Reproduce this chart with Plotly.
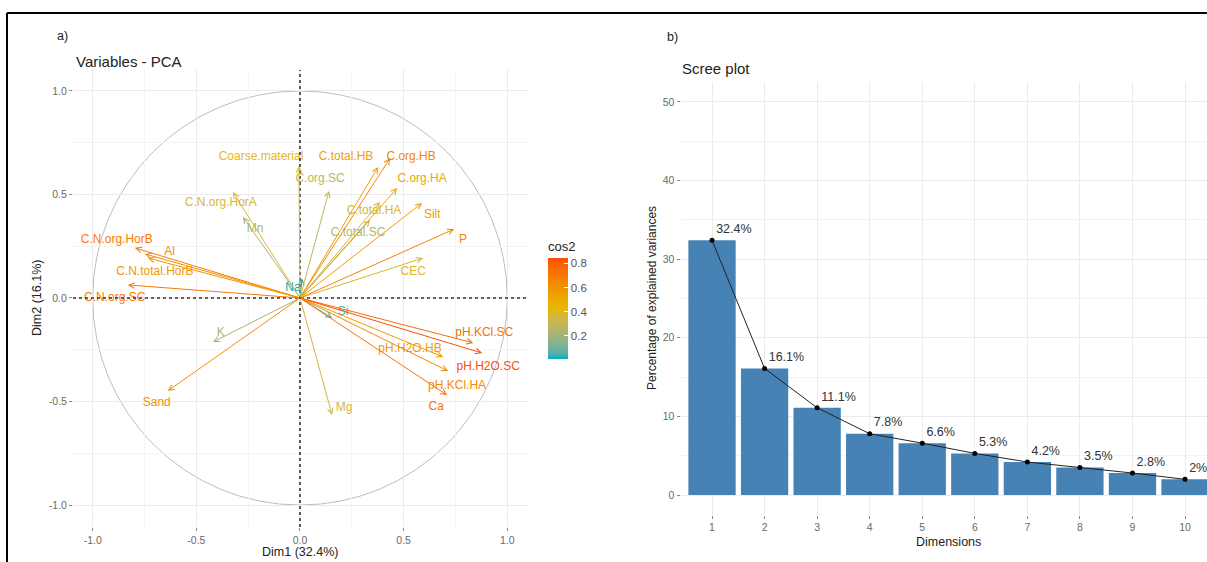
import plotly.graph_objects as go

# ---------------- data ----------------
var_names = ["C.N.org.HorB", "Al", "C.N.total.HorB", "C.N.org.SC", "C.N.org.HorA", "Mn", "Na",
             "Coarse.material", "C.org.SC", "C.total.HB", "C.org.HB", "C.org.HA", "C.total.HA",
             "C.total.SC", "Silt", "P", "CEC", "Si", "pH.KCl.SC", "pH.H2O.SC", "pH.H2O.HB",
             "pH.KCl.HA", "Ca", "Mg", "K", "Sand"]
dim1 = [-0.797, -0.749, -0.734, -0.831, -0.324, -0.275, 0.010,
        -0.005, 0.140, 0.377, 0.435, 0.469, 0.386,
        0.338, 0.589, 0.744, 0.594, 0.155, 0.836, 0.879, 0.691,
        0.715, 0.710, 0.155, -0.420, -0.638]
dim2 = [0.242, 0.213, 0.193, 0.063, 0.512, 0.391, 0.095,
        0.638, 0.517, 0.633, 0.676, 0.531, 0.464,
        0.377, 0.459, 0.333, 0.193, -0.097, -0.217, -0.266, -0.285,
        -0.353, -0.469, -0.565, -0.213, -0.449]

dims = [1, 2, 3, 4, 5, 6, 7, 8, 9, 10]
eig_pct = [32.4, 16.1, 11.1, 7.8, 6.6, 5.3, 4.2, 3.5, 2.8, 2.0]

pca_ticks = [-1.0, -0.5, 0.0, 0.5, 1.0]
pca_ticktext = ["-1.0", "-0.5", "0.0", "0.5", "1.0"]
scree_ticks = [0, 10, 20, 30, 40, 50]
cos2_ticks = [0.2, 0.4, 0.6, 0.8]

# ---------------- label placement (layout) ----------------
lab_dx = {"C.N.org.HorB": -0.087, "Al": 0.12, "C.N.total.HorB": 0.034, "C.N.org.SC": -0.063,
          "C.N.org.HorA": -0.058, "Mn": 0.058, "Na": -0.044, "Coarse.material": -0.183,
          "C.org.SC": -0.043, "C.total.HB": -0.155, "C.org.HB": 0.101, "C.org.HA": 0.12,
          "C.total.HA": -0.029, "C.total.SC": -0.058, "Silt": 0.049, "P": 0.043, "CEC": -0.048,
          "Si": 0.053, "pH.KCl.SC": 0.053, "pH.H2O.SC": 0.029, "pH.H2O.HB": -0.16,
          "pH.KCl.HA": 0.043, "Ca": -0.053, "Mg": 0.058, "K": 0.038, "Sand": -0.053}
lab_dy = {"C.N.org.HorB": 0.038, "Al": 0.009, "C.N.total.HorB": -0.067, "C.N.org.SC": -0.063,
          "C.N.org.HorA": -0.053, "Mn": -0.058, "Na": -0.048, "Coarse.material": 0.043,
          "C.org.SC": 0.058, "C.total.HB": 0.048, "C.org.HB": 0.005, "C.org.HA": 0.044,
          "C.total.HA": -0.044, "C.total.SC": -0.063, "Silt": -0.058, "P": -0.053, "CEC": -0.067,
          "Si": 0.029, "pH.KCl.SC": 0.048, "pH.H2O.SC": -0.067, "pH.H2O.HB": 0.039,
          "pH.KCl.HA": -0.072, "Ca": -0.058, "Mg": 0.034, "K": 0.044, "Sand": -0.058}

W, H = 1207, 562
FONT = "Liberation Sans, Arial, sans-serif"
GRAD = ["#00AFBB", "#E7B800", "#FC4E07"]


# ---------------- colour helpers (Lab interpolation like ggplot) ----------------
def _lin(c):
    c = c / 255.0
    return c / 12.92 if c <= 0.04045 else ((c + 0.055) / 1.055) ** 2.4


def _gam(c):
    c = 12.92 * c if c <= 0.0031308 else 1.055 * c ** (1 / 2.4) - 0.055
    return max(0, min(255, round(c * 255)))


def hex2lab(h):
    r, g, b = [_lin(int(h[i:i + 2], 16)) for i in (1, 3, 5)]
    X = (0.4124564 * r + 0.3575761 * g + 0.1804375 * b) / 0.95047
    Y = (0.2126729 * r + 0.7151522 * g + 0.0721750 * b)
    Z = (0.0193339 * r + 0.1191920 * g + 0.9503041 * b) / 1.08883
    f = lambda t: t ** (1 / 3) if t > 0.008856 else 7.787 * t + 16 / 116
    fx, fy, fz = f(X), f(Y), f(Z)
    return (116 * fy - 16, 500 * (fx - fy), 200 * (fy - fz))


def lab2hex(L, a, b):
    fy = (L + 16) / 116
    fx = fy + a / 500
    fz = fy - b / 200
    finv = lambda t: t ** 3 if t ** 3 > 0.008856 else (t - 16 / 116) / 7.787
    X, Y, Z = 0.95047 * finv(fx), finv(fy), 1.08883 * finv(fz)
    r = 3.2404542 * X - 1.5371385 * Y - 0.4985314 * Z
    g = -0.9692660 * X + 1.8760108 * Y + 0.0415560 * Z
    bb = 0.0556434 * X - 0.2040259 * Y + 1.0572252 * Z
    return "#%02X%02X%02X" % (_gam(r), _gam(g), _gam(bb))


LABS = [hex2lab(c) for c in GRAD]


def grad_color(t):
    t = max(0.0, min(1.0, t))
    if t <= 0.5:
        a, b, u = LABS[0], LABS[1], t / 0.5
    else:
        a, b, u = LABS[1], LABS[2], (t - 0.5) / 0.5
    return lab2hex(*[a[i] + (b[i] - a[i]) * u for i in range(3)])


cos2 = [x * x + y * y for x, y in zip(dim1, dim2)]
cmin, cmax = min(cos2), max(cos2)
cols = [grad_color((c - cmin) / (cmax - cmin)) for c in cos2]
colorscale = [[i / 20, grad_color(i / 20)] for i in range(21)]


def px_x(p):
    return p / W


def px_y(p):
    return 1 - p / H


fig = go.Figure()

# ---------------- left panel: PCA variables ----------------
fig.add_trace(go.Scatter(
    x=[x + lab_dx[n] for x, n in zip(dim1, var_names)],
    y=[y + lab_dy[n] for y, n in zip(dim2, var_names)],
    mode="text", text=var_names,
    textfont=dict(color=cols, size=12, family=FONT),
    textposition="middle center", hoverinfo="skip", showlegend=False,
    xaxis="x", yaxis="y"))

# invisible carrier of the cos2 colour bar
fig.add_trace(go.Scatter(
    x=dim1, y=dim2, mode="markers",
    marker=dict(size=1, opacity=0, color=cos2, colorscale=colorscale, cmin=cmin, cmax=cmax,
                showscale=True,
                colorbar=dict(x=px_x(548), xanchor="left", xpad=0,
                              y=px_y(238), yanchor="top", ypad=0,
                              lenmode="pixels", len=121, thickness=20, outlinewidth=0,
                              tickvals=cos2_ticks, ticktext=[f"{v:.1f}" for v in cos2_ticks],
                              ticks="inside", ticklen=4, tickcolor="white",
                              tickfont=dict(size=11.5, color="#555", family=FONT),
                              title=dict(text="cos2", side="top",
                                         font=dict(size=13, color="#222", family=FONT)))),
    hoverinfo="skip", showlegend=False, xaxis="x", yaxis="y"))

annotations = []
for x, y, c in zip(dim1, dim2, cols):
    annotations.append(dict(x=x, y=y, ax=0, ay=0, xref="x", yref="y", axref="x", ayref="y",
                            text="", showarrow=True, arrowhead=5, arrowsize=1.1,
                            arrowwidth=1, arrowcolor=c, standoff=0, startstandoff=0))

# ---------------- right panel: scree plot ----------------
fig.add_trace(go.Bar(x=dims, y=eig_pct, width=0.9, marker=dict(color="#4682B4", line=dict(width=0)),
                     hoverinfo="skip", showlegend=False, xaxis="x2", yaxis="y2"))
fig.add_trace(go.Scatter(x=dims, y=eig_pct, mode="lines+markers+text",
                         line=dict(color="#222", width=1), marker=dict(color="black", size=5),
                         text=[f"{v:g}%" for v in eig_pct], textposition="top right",
                         textfont=dict(size=12.5, color="#333", family=FONT),
                         hoverinfo="skip", showlegend=False, xaxis="x2", yaxis="y2",
                         cliponaxis=False))

tickfont = dict(size=10.5, color="#6a6a6a", family=FONT)
grid_major = "#EBEBEB"
grid_minor = "#F4F4F4"

fig.update_layout(
    width=W, height=H, autosize=False,
    margin=dict(l=0, r=0, t=0, b=0),
    paper_bgcolor="white", plot_bgcolor="white",
    font=dict(family=FONT),
    xaxis=dict(domain=[px_x(73), px_x(528)], range=[-1.095, 1.10],
               tickvals=pca_ticks, ticktext=pca_ticktext, tickfont=tickfont,
               ticks="outside", ticklen=3, tickcolor="#888", showline=False, zeroline=False,
               showgrid=True, gridcolor=grid_major, gridwidth=1,
               minor=dict(showgrid=True, gridcolor=grid_minor, gridwidth=0.8,
                          tickvals=[-0.75, -0.25, 0.25, 0.75], ticks=""),
               anchor="y", fixedrange=True),
    yaxis=dict(domain=[1 - 527 / H, 1 - 70 / H], range=[-1.106, 1.101],
               tickvals=pca_ticks, ticktext=pca_ticktext, tickfont=tickfont,
               ticks="outside", ticklen=3, tickcolor="#888", showline=False, zeroline=False,
               showgrid=True, gridcolor=grid_major, gridwidth=1,
               minor=dict(showgrid=True, gridcolor=grid_minor, gridwidth=0.8,
                          tickvals=[-0.75, -0.25, 0.25, 0.75], ticks=""),
               anchor="x", fixedrange=True),
    xaxis2=dict(domain=[px_x(680.5), 1.0], range=[0.4, 10.418],
                tickvals=dims, ticktext=[str(d) for d in dims], tickfont=tickfont,
                ticks="outside", ticklen=3, tickcolor="#888", showline=False, zeroline=False,
                showgrid=True, gridcolor=grid_major, gridwidth=1, anchor="y2", fixedrange=True),
    yaxis2=dict(domain=[1 - 514.7 / H, 1 - 82.3 / H], range=[-2.5, 52.5],
                tickvals=scree_ticks, tickfont=tickfont,
                ticks="outside", ticklen=3, tickcolor="#888", showline=False, zeroline=False,
                showgrid=True, gridcolor=grid_major, gridwidth=1,
                minor=dict(showgrid=True, gridcolor=grid_minor, gridwidth=0.8,
                           tickvals=[5, 15, 25, 35, 45], ticks=""),
                anchor="x2", fixedrange=True),
    bargap=0.1,
)

shapes = [
    # correlation circle
    dict(type="circle", xref="x", yref="y", x0=-1, y0=-1, x1=1, y1=1,
         line=dict(color="#BDBDBD", width=1), layer="below"),
    # dashed axes through origin
    dict(type="line", xref="x domain", yref="y", x0=0, x1=1, y0=0, y1=0,
         line=dict(color="#333", width=1.6, dash="3px,3px"), layer="above"),
    dict(type="line", xref="x", yref="y domain", x0=0, x1=0, y0=0, y1=1,
         line=dict(color="#333", width=1.6, dash="3px,3px"), layer="above"),
    # outer frame (top and left edges visible)
    dict(type="line", xref="paper", yref="paper", x0=px_x(7), x1=1.0, y0=px_y(13), y1=px_y(13),
         line=dict(color="black", width=2)),
    dict(type="line", xref="paper", yref="paper", x0=px_x(7), x1=px_x(7), y0=px_y(13), y1=0,
         line=dict(color="black", width=2)),
]


def ptext(text, x, y, size, color="#222", xanchor="center", angle=0):
    return dict(text=text, x=px_x(x), y=px_y(y), xref="paper", yref="paper", showarrow=False,
                xanchor=xanchor, yanchor="middle", textangle=angle,
                font=dict(size=size, color=color, family=FONT))


annotations += [
    ptext("a)", 55, 36, 12.5, xanchor="left"),
    ptext("Variables - PCA", 74, 62, 15, xanchor="left"),
    ptext("Dim2 (16.1%)", 37, 298, 12.5, angle=-90),
    ptext("Dim1 (32.4%)", 300, 552, 12.5),
    ptext("b)", 665, 37, 12.5, xanchor="left"),
    ptext("Scree plot", 680, 68, 15, xanchor="left"),
    ptext("Percentage of explained variances", 652, 298, 12, angle=-90),
    ptext("Dimensions", 948, 542, 12.5),
]

fig.update_layout(shapes=shapes, annotations=annotations)
fig.write_html("out.html", config={"displayModeBar": False},
               post_script="document.body.style.margin='0';document.body.style.overflow='hidden';")
